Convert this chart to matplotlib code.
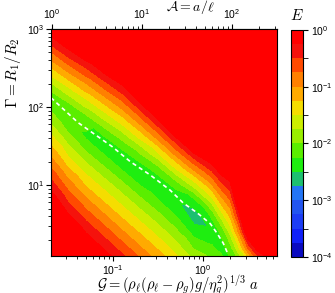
import numpy as np
import matplotlib
matplotlib.use("Agg")
import matplotlib.pyplot as plt
import matplotlib.tri as mtri
from matplotlib.colors import ListedColormap, BoundaryNorm
from matplotlib.cm import ScalarMappable

plt.rcParams['font.family'] = ['Liberation Sans', 'DejaVu Sans']
plt.rcParams['mathtext.fontset'] = 'cm'

# grid nodes: log10(G) columns, log10(Gamma) rows
logG = [-1.7, -1.5, -1.3, -1.1, -0.9, -0.7, -0.5, -0.3, -0.1, 0.1, 0.2, 0.3, 0.4, 0.5, 0.6, 0.7, 0.9]
logGamma = [0.0, 0.2, 0.4, 0.6, 0.8, 1.0, 1.2, 1.4, 1.6, 1.8, 2.0, 2.2, 2.4, 2.6, 2.8, 3.0]

# log10(E) (one row per Gamma node)
logE = [
    [1.0, 0.82, 0.39, 0.03, -0.32, -0.66, -1.00, -1.35, -1.71, -1.94, -2.11, -2.30, -2.03, -1.54, -0.86, -0.50, 0.50],
    [1.0, 0.48, 0.06, -0.30, -0.65, -0.98, -1.31, -1.65, -2.05, -2.22, -2.37, -2.09, -1.47, -0.65, -0.06, 0.25, 1.0],
    [0.67, 0.14, -0.28, -0.63, -0.97, -1.30, -1.62, -1.95, -2.39, -2.44, -2.19, -1.65, -0.90, 0.24, 0.74, 1.0, 1.0],
    [0.33, -0.20, -0.62, -0.96, -1.30, -1.62, -1.93, -2.25, -2.65, -2.19, -1.65, -1.21, -0.34, 1.0, 1.0, 1.0, 1.0],
    [-0.02, -0.54, -0.95, -1.29, -1.62, -1.94, -2.24, -2.47, -2.31, -1.60, -1.12, -0.77, 0.23, 1.0, 1.0, 1.0, 1.0],
    [-0.36, -0.88, -1.29, -1.62, -1.94, -2.26, -2.45, -2.14, -1.63, -1.01, -0.58, -0.33, 0.80, 1.0, 1.0, 1.0, 1.0],
    [-0.71, -1.22, -1.62, -1.95, -2.27, -2.41, -2.11, -1.52, -0.95, -0.42, -0.04, 0.11, 1.0, 1.0, 1.0, 1.0, 1.0],
    [-1.06, -1.56, -1.96, -2.27, -2.35, -2.01, -1.52, -0.90, -0.27, 0.17, 0.49, 0.55, 1.0, 1.0, 1.0, 1.0, 1.0],
    [-1.40, -1.90, -2.27, -2.30, -1.93, -1.47, -0.93, -0.28, 0.41, 0.76, 1.0, 0.99, 1.0, 1.0, 1.0, 1.0, 1.0],
    [-1.75, -2.21, -2.22, -1.83, -1.43, -0.93, -0.34, 0.34, 1.0, 1.0, 1.0, 1.0, 1.0, 1.0, 1.0, 1.0, 1.0],
    [-2.07, -2.13, -1.73, -1.33, -0.93, -0.39, 0.25, 0.96, 1.0, 1.0, 1.0, 1.0, 1.0, 1.0, 1.0, 1.0, 1.0],
    [-2.02, -1.62, -1.23, -0.83, -0.43, 0.15, 0.84, 1.0, 1.0, 1.0, 1.0, 1.0, 1.0, 1.0, 1.0, 1.0, 1.0],
    [-1.52, -1.11, -0.73, -0.32, 0.07, 0.69, 1.0, 1.0, 1.0, 1.0, 1.0, 1.0, 1.0, 1.0, 1.0, 1.0, 1.0],
    [-1.02, -0.59, -0.22, 0.18, 0.57, 1.0, 1.0, 1.0, 1.0, 1.0, 1.0, 1.0, 1.0, 1.0, 1.0, 1.0, 1.0],
    [-0.51, -0.08, 0.28, 0.69, 1.0, 1.0, 1.0, 1.0, 1.0, 1.0, 1.0, 1.0, 1.0, 1.0, 1.0, 1.0, 1.0],
    [0.00, 0.44, 0.78, 1.0, 1.0, 1.0, 1.0, 1.0, 1.0, 1.0, 1.0, 1.0, 1.0, 1.0, 1.0, 1.0, 1.0],
]

# white dashed curve
curve_G = [0.0204, 0.041, 0.098, 0.155, 0.26, 0.43, 0.60, 0.86, 1.2, 1.43, 1.67, 1.85]
curve_Gamma = [132, 63, 31, 20, 13.4, 8.6, 5.9, 4.4, 3.2, 2.4, 1.8, 1.37]

A_per_G = 48.0  # top axis A = a/l versus G

# one colour per quarter decade, 1e-4 -> 1e0
band_colors = ['#0a0ac0', '#1020f8', '#1c3df5', '#2255f0', '#2375f5', '#1dc070',
               '#1eee10', '#5aee00', '#99ee00', '#ccee00', '#f5dd00', '#ffaa00',
               '#ff8000', '#ff4a00', '#f5120c', '#ff0000']
levels = np.linspace(-4.0, 0.0, 17)

fig = plt.figure(figsize=(3.35, 2.93), dpi=100)
ax = fig.add_axes([0.152, 0.126, 0.675, 0.775])

# split every grid cell along its falling diagonal (same way as the valley runs)
nu, nv = len(logG), len(logGamma)
triangles = []
for j in range(nv - 1):
    for i in range(nu - 1):
        a, b = j * nu + i, j * nu + i + 1
        c, d = (j + 1) * nu + i, (j + 1) * nu + i + 1
        triangles.append([a, b, c])
        triangles.append([b, d, c])
U, V = np.meshgrid(logG, logGamma)
tri = mtri.Triangulation(10 ** U.ravel(), 10 ** V.ravel(), triangles)

ax.tricontourf(tri, np.array(logE).ravel(), levels=levels, extend='both',
               colors=[band_colors[0]] + band_colors + [band_colors[-1]])
ax.plot(curve_G, curve_Gamma, color='white', lw=1.2, ls=(0, (2.5, 2.0)))

ax.set_xscale('log')
ax.set_yscale('log')
ax.set_xlim(10 ** -1.69, 10 ** 0.82)
ax.set_ylim(10 ** 0.09, 1000)
ax.tick_params(which='both', direction='out', labelsize=7.5, pad=1.5)
ax.tick_params(which='major', length=3.5)
ax.tick_params(which='minor', length=2)

secax = ax.secondary_xaxis('top', functions=(lambda g: g * A_per_G, lambda a: a / A_per_G))
secax.tick_params(which='both', direction='out', labelsize=7.5, pad=2)
secax.tick_params(which='major', length=3.5)
secax.tick_params(which='minor', length=2)

cax = fig.add_axes([0.8687, 0.123, 0.0358, 0.775])
sm = ScalarMappable(norm=BoundaryNorm(levels, 16), cmap=ListedColormap(band_colors))
cb = fig.colorbar(sm, cax=cax)
cb.set_ticks([-4, -3, -2, -1, 0])
cb.set_ticklabels([r'$\mathdefault{10^{-4}}$', r'$\mathdefault{10^{-3}}$', r'$\mathdefault{10^{-2}}$',
                   r'$\mathdefault{10^{-1}}$', r'$\mathdefault{10^{0}}$'])
cb.set_ticks([-3.5, -2.5, -1.5, -0.5], minor=True)
cb.outline.set_linewidth(0.8)
cax.tick_params(which='both', direction='out', length=3.5, labelsize=7.5, pad=2)

fig.text(13 / 335, 1 - 73 / 293, r'$\Gamma = R_1/R_2$', rotation=90, ha='center', va='center', fontsize=11)
fig.text(178 / 335, 1 - 285 / 293, r'$\mathcal{G} = (\rho_\ell(\rho_\ell - \rho_g)g/\eta_g^2)^{1/3}\ a$',
         ha='center', va='center', fontsize=10.5)
fig.text(191 / 335, 1 - 8 / 293, r'$\mathcal{A} = a/\bar{\ell}$', ha='center', va='center', fontsize=10)
fig.text(297 / 335, 1 - 16 / 293, r'$E$', ha='center', va='center', fontsize=11)

fig.savefig('out.png', dpi=100)
